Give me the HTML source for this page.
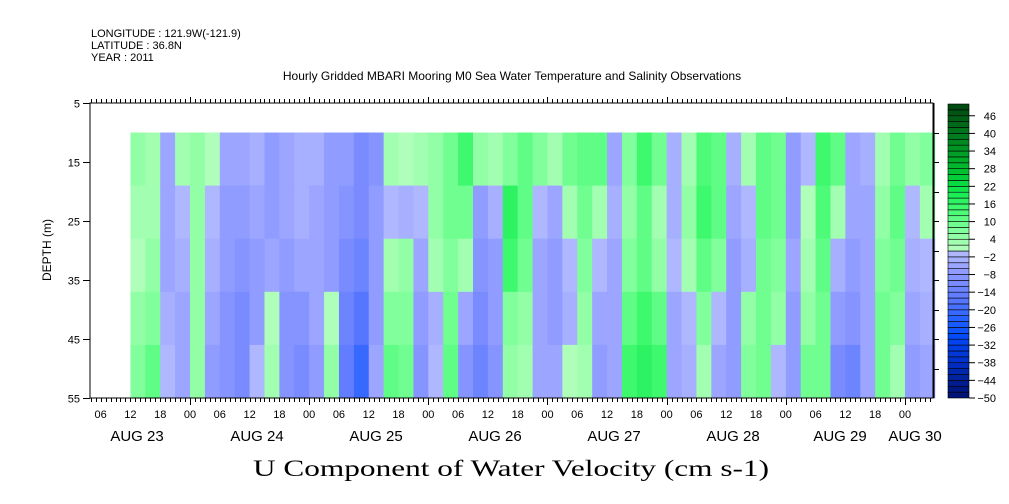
<!DOCTYPE html>
<html><head><meta charset="utf-8"><style>
html,body{margin:0;padding:0;background:#fff;width:1009px;height:504px;overflow:hidden}
svg text{font-family:"Liberation Sans",sans-serif;fill:#000}
</style></head><body>
<svg id="chart" width="1009" height="504" viewBox="0 0 1009 504" xmlns="http://www.w3.org/2000/svg">
<g>
<text x="91" y="37" font-size="11">LONGITUDE : 121.9W(-121.9)</text>
<text x="91" y="49" font-size="11">LATITUDE : 36.8N</text>
<text x="91" y="61" font-size="11">YEAR : 2011</text>
</g>
<text x="512" y="80" font-size="12" text-anchor="middle">Hourly Gridded MBARI Mooring M0 Sea Water Temperature and Salinity Observations</text>
<g id="cells"></g>
<g id="axes"></g>
<g id="cbar"></g>
<text x="0" y="0" font-size="12" text-anchor="middle" transform="translate(51,250) rotate(-90)">DEPTH (m)</text>
<text x="511" y="476" font-size="23" text-anchor="middle" textLength="516" lengthAdjust="spacingAndGlyphs" style="font-family:'Liberation Serif',serif">U Component of Water Velocity (cm s-1)</text>
</svg>
<script>
// data: 3-hour columns starting at hour 12 of Aug 23, 5 depth bands (10-19,19-28,28-37,37-46,46-55 m)
const startHour = 12;
const colHours = 3;
const depthEdges = [10,19,28,37,46,55];
const uValues = [
[4,2,0,4,6],[2,2,4,6,10],[-6,-6,-6,-4,-2],[2,-2,-4,-6,-6],[4,4,4,4,4],[0,-2,-4,-6,-8],
[-6,-8,-8,-10,-10],[-6,-8,-10,-12,-12],[-4,-6,-8,-8,-2],[-8,-8,-6,0,2],[-6,-6,-8,-10,-10],
[-4,-4,-6,-10,-12],[-4,-6,-6,-6,-8],[-8,-8,-8,0,4],[-8,-10,-12,-14,-16],[-12,-12,-14,-18,-22],
[-10,-8,-8,-8,-6],[2,-2,2,6,10],[0,-4,4,6,8],[2,-2,-6,-8,-10],[4,4,2,-4,-2],[8,8,6,8,10],
[14,8,2,-6,-10],[4,-8,-10,-12,-14],[2,-4,-8,-8,-10],[6,16,14,6,4],
[10,10,8,4,2],[6,-2,-6,-6,-6],[2,-6,-8,-8,-6],[8,2,-2,-4,0],[10,8,6,4,2],[10,2,-2,-6,-8],
[-6,-4,-6,-6,-6],[6,4,6,10,14],[14,10,10,14,16],[8,2,4,10,14],[-4,-4,-2,-6,-6],[2,4,2,-2,-4],
[12,14,10,6,2],[10,10,6,-2,-6],[-4,-6,-8,-8,-8],[2,-2,-4,4,6],[10,10,8,8,8],[8,8,6,4,-2],
[-8,-8,-6,-8,-8],[-2,0,2,4,8],[14,12,10,8,8],[10,2,-4,-8,-12],[-6,-6,-8,-10,-14],
[-4,-6,-6,-6,-6],[2,4,6,8,8],[8,10,8,6,2],[4,-2,-4,-6,-8],[6,2,-2,-4,-6]
];
const dataEndHour = 175;
const depthTicks = [5,15,25,35,45,55];
const cbarLabels = [46,40,34,28,22,16,10,4,-2,-8,-14,-20,-26,-32,-38,-44,-50];
const hourLabels = ["06","12","18","00"];
const dayLabels = ["AUG 23","AUG 24","AUG 25","AUG 26","AUG 27","AUG 28","AUG 29","AUG 30"];
const dayLabelX = [137,257,376,495,614,733,840,915];

const NS="http://www.w3.org/2000/svg";
const PL=90,PR=933,PT=103,PB=398;
function xs(h){return 190+(h-24)*4.965;}
function ys(d){return PT+(d-5)*(PB-PT)/50;}
function cy(v){return 104+(50-v)*(398-104)/100;}
function color(v){
  const stops=[[-50,[0,16,112]],[-44,[0,32,150]],[-38,[0,48,200]],[-30,[0,70,245]],[-24,[30,95,255]],[-18,[80,115,255]],[-12,[115,135,255]],[-6,[150,160,255]],[-2,[172,180,255]],[0,[178,186,255]],
  [0.01,[182,255,192]],[4,[155,255,172]],[8,[120,255,150]],[14,[70,250,115]],[20,[20,235,80]],[26,[0,200,50]],[32,[0,165,40]],[38,[0,130,32]],[44,[0,100,24]],[50,[0,70,16]]];
  for(let i=0;i<stops.length-1;i++){const a=stops[i],b=stops[i+1];
    if(v<=b[0]){const t=Math.max(0,(v-a[0])/(b[0]-a[0]));const c=a[1].map((x,k)=>Math.round(x+(b[1][k]-x)*t));return `rgb(${c})`;}}
  return 'rgb(0,70,16)';
}
function band(v){return Math.floor(v/2)*2+1;}
function mk(tag,attrs,parent){const e=document.createElementNS(NS,tag);for(const k in attrs)e.setAttribute(k,attrs[k]);parent.appendChild(e);return e;}

const cells=document.getElementById('cells');
uValues.forEach((col,i)=>{
  const h0=startHour+i*colHours, h1=Math.min(h0+colHours,dataEndHour);
  col.forEach((v,j)=>{
    const r=mk('rect',{x:xs(h0),y:ys(depthEdges[j]),width:xs(h1)-xs(h0)+0.5,height:ys(depthEdges[j+1])-ys(depthEdges[j])+0.5,fill:color(band(v))},cells);
    
    
  });
});

const ax=document.getElementById('axes');
mk('rect',{x:PL,y:PT,width:PR-PL,height:PB-PT,fill:'none',stroke:'#000','stroke-width':1},ax);
mk('line',{x1:PR+0.5,y1:PT,x2:PR+0.5,y2:PB,stroke:'#000','stroke-width':2},ax);
for(let h=4;h<=173;h++){
  const x=Math.round(xs(h))+0.5, big=h%24===0;
  mk('line',{x1:x,y1:PT,x2:x,y2:PT-(big?6:4),stroke:'#000'},ax);
  mk('line',{x1:x,y1:PB,x2:x,y2:PB+(big?7:4),stroke:'#000'},ax);
}
for(let h=6;h<=168;h+=6){
  const t=mk('text',{x:xs(h),y:418,'font-size':11,'text-anchor':'middle'},ax);
  t.textContent=hourLabels[(h/6-1)%4];
  
  
}
dayLabels.forEach((d,i)=>{
  const t=mk('text',{x:dayLabelX[i],y:441,'font-size':15,'text-anchor':'middle'},ax);
  t.textContent=d;
  
  
});
depthTicks.forEach(d=>{
  const y=Math.round(ys(d))+0.5;
  mk('line',{x1:PL-7,y1:y,x2:PL,y2:y,stroke:'#000'},ax);
  const t=mk('text',{x:PL-10,y:y+4,'font-size':11,'text-anchor':'end'},ax);
  t.textContent=d;
  
  
});
for(let d=10;d<55;d+=5){const y=Math.round(ys(d))+0.5;mk('line',{x1:PR,y1:y,x2:PR+6,y2:y,stroke:'#000'},ax);}

const cb=document.getElementById('cbar');
for(let v=-50;v<50;v+=2){
  const r=mk('rect',{x:948,y:cy(v+2),width:21,height:cy(v)-cy(v+2),fill:color(v+1),stroke:'#000','stroke-width':0.6},cb);
  
  
}
cbarLabels.forEach(v=>{
  const y=cy(v);
  mk('line',{x1:969,y1:y,x2:975,y2:y,stroke:'#000'},cb);
  const t=mk('text',{x:996,y:y+4,'font-size':11,'text-anchor':'end'},cb);
  t.textContent=v<0?'\u2212'+(-v):String(v);
  
  
});
</script>
</body></html>
